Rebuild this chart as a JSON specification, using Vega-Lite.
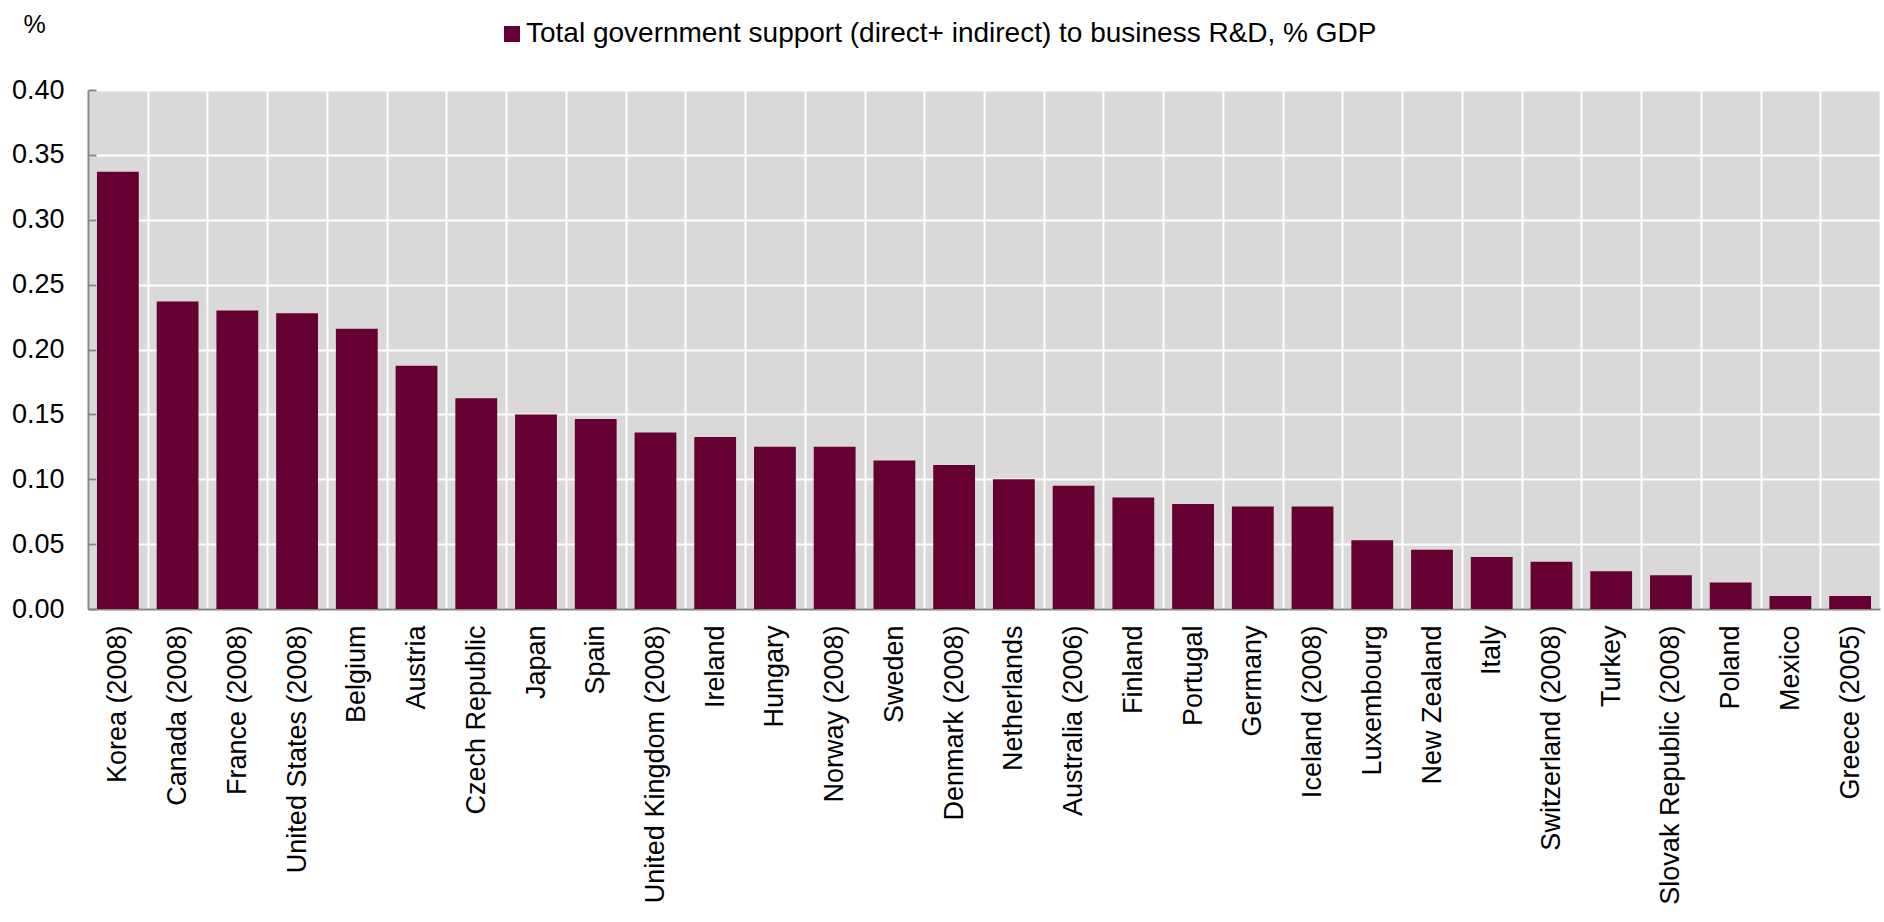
{
  "$schema": "https://vega.github.io/schema/vega-lite/v6.json",
  "width": 1792,
  "height": 519,
  "autosize": {"type": "none"},
  "padding": {"left": 88, "top": 90, "right": 4, "bottom": 313},
  "background": "white",
  "config": {
    "font": "Liberation Sans",
    "view": {"fill": "#d9d9d9", "stroke": null}
  },
  "data": {
    "values": [
      {"country": "Korea (2008)", "value": 0.337, "series": "Total government support (direct+ indirect) to business R&D, % GDP"},
      {"country": "Canada (2008)", "value": 0.237, "series": "Total government support (direct+ indirect) to business R&D, % GDP"},
      {"country": "France (2008)", "value": 0.230, "series": "Total government support (direct+ indirect) to business R&D, % GDP"},
      {"country": "United States (2008)", "value": 0.228, "series": "Total government support (direct+ indirect) to business R&D, % GDP"},
      {"country": "Belgium", "value": 0.216, "series": "Total government support (direct+ indirect) to business R&D, % GDP"},
      {"country": "Austria", "value": 0.1875, "series": "Total government support (direct+ indirect) to business R&D, % GDP"},
      {"country": "Czech Republic", "value": 0.1625, "series": "Total government support (direct+ indirect) to business R&D, % GDP"},
      {"country": "Japan", "value": 0.150, "series": "Total government support (direct+ indirect) to business R&D, % GDP"},
      {"country": "Spain", "value": 0.1465, "series": "Total government support (direct+ indirect) to business R&D, % GDP"},
      {"country": "United Kingdom (2008)", "value": 0.136, "series": "Total government support (direct+ indirect) to business R&D, % GDP"},
      {"country": "Ireland", "value": 0.1325, "series": "Total government support (direct+ indirect) to business R&D, % GDP"},
      {"country": "Hungary", "value": 0.125, "series": "Total government support (direct+ indirect) to business R&D, % GDP"},
      {"country": "Norway (2008)", "value": 0.125, "series": "Total government support (direct+ indirect) to business R&D, % GDP"},
      {"country": "Sweden", "value": 0.1145, "series": "Total government support (direct+ indirect) to business R&D, % GDP"},
      {"country": "Denmark (2008)", "value": 0.111, "series": "Total government support (direct+ indirect) to business R&D, % GDP"},
      {"country": "Netherlands", "value": 0.100, "series": "Total government support (direct+ indirect) to business R&D, % GDP"},
      {"country": "Australia (2006)", "value": 0.095, "series": "Total government support (direct+ indirect) to business R&D, % GDP"},
      {"country": "Finland", "value": 0.086, "series": "Total government support (direct+ indirect) to business R&D, % GDP"},
      {"country": "Portugal", "value": 0.081, "series": "Total government support (direct+ indirect) to business R&D, % GDP"},
      {"country": "Germany", "value": 0.079, "series": "Total government support (direct+ indirect) to business R&D, % GDP"},
      {"country": "Iceland (2008)", "value": 0.079, "series": "Total government support (direct+ indirect) to business R&D, % GDP"},
      {"country": "Luxembourg", "value": 0.053, "series": "Total government support (direct+ indirect) to business R&D, % GDP"},
      {"country": "New Zealand", "value": 0.0456, "series": "Total government support (direct+ indirect) to business R&D, % GDP"},
      {"country": "Italy", "value": 0.040, "series": "Total government support (direct+ indirect) to business R&D, % GDP"},
      {"country": "Switzerland (2008)", "value": 0.0365, "series": "Total government support (direct+ indirect) to business R&D, % GDP"},
      {"country": "Turkey", "value": 0.029, "series": "Total government support (direct+ indirect) to business R&D, % GDP"},
      {"country": "Slovak Republic (2008)", "value": 0.026, "series": "Total government support (direct+ indirect) to business R&D, % GDP"},
      {"country": "Poland", "value": 0.0205, "series": "Total government support (direct+ indirect) to business R&D, % GDP"},
      {"country": "Mexico", "value": 0.010, "series": "Total government support (direct+ indirect) to business R&D, % GDP"},
      {"country": "Greece (2005)", "value": 0.010, "series": "Total government support (direct+ indirect) to business R&D, % GDP"}
    ]
  },
  "mark": {"type": "bar", "width": {"band": 0.7}},
  "encoding": {
    "x": {
      "field": "country",
      "type": "nominal",
      "sort": null,
      "scale": {"paddingInner": 0, "paddingOuter": 0},
      "axis": {
        "title": null,
        "tickBand": "extent",
        "ticks": false,
        "grid": true,
        "gridColor": "white",
        "gridWidth": 2,
        "gridOpacity": 1,
        "domainColor": "#868686",
        "domainWidth": 2,
        "labelAngle": -90,
        "labelFontSize": 27,
        "labelColor": "black",
        "labelPadding": 16,
        "labelLimit": 400
      }
    },
    "y": {
      "field": "value",
      "type": "quantitative",
      "scale": {"domain": [0, 0.4], "nice": false},
      "axis": {
        "values": [0, 0.05, 0.1, 0.15, 0.2, 0.25, 0.3, 0.35, 0.4],
        "format": ".2f",
        "grid": true,
        "gridColor": "white",
        "gridWidth": 2,
        "gridOpacity": 1,
        "domainColor": "#868686",
        "domainWidth": 2,
        "ticks": true,
        "tickColor": "#868686",
        "tickWidth": 2,
        "tickSize": -8,
        "labelPadding": 32,
        "labelFontSize": 27,
        "labelColor": "black",
        "title": "%",
        "titleAngle": 0,
        "titleX": -54,
        "titleY": -66,
        "titleAlign": "center",
        "titleBaseline": "middle",
        "titleFontSize": 25,
        "titleFontWeight": "normal",
        "titleColor": "black"
      }
    },
    "color": {
      "field": "series",
      "type": "nominal",
      "scale": {"range": ["#660033"]},
      "legend": {
        "title": null,
        "orient": "none",
        "legendX": 410,
        "legendY": -70,
        "symbolType": "square",
        "symbolSize": 256,
        "symbolStrokeWidth": 0,
        "symbolOpacity": 1,
        "labelFontSize": 28,
        "labelColor": "black",
        "labelLimit": 0,
        "labelOffset": 0,
        "padding": 0
      }
    }
  }
}
